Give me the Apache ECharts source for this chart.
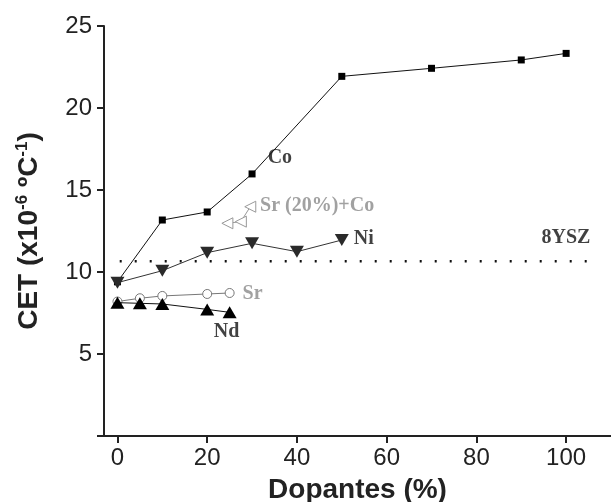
<!DOCTYPE html>
<html>
<head>
<meta charset="utf-8">
<script src="https://cdn.jsdelivr.net/npm/echarts@6/dist/echarts.min.js"></script>
<style>html,body{margin:0;padding:0;background:#fff;}#c{width:611px;height:502px;}</style>
</head>
<body>
<div id="c"></div>
<script>
// Data
const coX = [0, 10, 20, 30, 50, 70, 90, 100];
const coY = [9.4, 13.17, 13.66, 15.98, 21.93, 22.42, 22.93, 23.33];
const niX = [0, 10, 20, 30, 40, 50];
const niY = [9.35, 10.08, 11.18, 11.75, 11.24, 11.95];
const srX = [0, 5, 10, 20, 25];
const srY = [8.2, 8.4, 8.54, 8.66, 8.72];
const ndX = [0, 5, 10, 20, 25];
const ndY = [8.13, 8.09, 8.05, 7.72, 7.54];
const srCoX = [24.5, 27.5, 29.6];
const srCoY = [12.97, 13.07, 13.98];
const ysz = 10.65;
const yszX = [0.5, 106.5];
const xTicks = [0, 20, 40, 60, 80, 100];
const labelText = ['Co', 'Sr (20%)+Co', 'Ni', '8YSZ', 'Sr', 'Nd'];
const labelX = [36.2, 44.5, 54.9, 99.95, 30.1, 24.3];
const labelY = [16.95, 14.02, 12.0, 12.07, 8.66, 6.36];
const labelColor = ['#111', '#8a8a8a', '#111', '#111', '#8a8a8a', '#111'];

const zip = (xs, ys) => xs.map((x, i) => [x, ys[i]]);

const chart = echarts.init(document.getElementById('c'), null, {renderer: 'canvas'});
chart.setOption({
  backgroundColor: '#fff',
  animation: false,
  grid: {left: 104, right: 0, top: 26, bottom: 66, containLabel: false, outerBoundsMode: 'none'},
  xAxis: {
    type: 'value', min: -3, max: 110,
    name: 'Dopantes (%)', nameLocation: 'middle', nameGap: 40,
    nameTextStyle: {fontFamily: 'Liberation Sans', fontWeight: 'bold', fontSize: 28, color: '#222'},
    axisLine: {show: true, onZero: false, lineStyle: {color: '#222', width: 2}},
    axisTick: {show: true, inside: false, length: 7, lineStyle: {color: '#222', width: 2}, customValues: xTicks},
    axisLabel: {customValues: xTicks, fontFamily: 'Liberation Sans', fontSize: 24, color: '#222', margin: 10},
    splitLine: {show: false}
  },
  yAxis: {
    type: 'value', min: 0, max: 25, interval: 5,
    name: '{a|CET (x10}{s|-6}{a| ºC}{s|-1}{a|)}', nameLocation: 'middle', nameGap: 60, nameRotate: 90,
    nameTextStyle: {
      rich: {
        a: {fontFamily: 'Liberation Sans', fontWeight: 'bold', fontSize: 28, color: '#222'},
        s: {fontFamily: 'Liberation Sans', fontWeight: 'bold', fontSize: 17, color: '#222', padding: [0, 0, 13, 0]}
      }
    },
    axisLine: {show: true, onZero: false, lineStyle: {color: '#222', width: 2}},
    axisTick: {show: true, inside: false, length: 7, lineStyle: {color: '#222', width: 2}},
    axisLabel: {fontFamily: 'Liberation Sans', fontSize: 24, color: '#222', margin: 12,
      formatter: v => v === 0 ? '' : String(v)},
    splitLine: {show: false}
  },
  series: [
    {name: '8YSZ', type: 'line', data: zip(yszX, [ysz, ysz]), symbol: 'none',
      lineStyle: {color: '#111', width: 2.5, type: [2, 13]}, z: 1},
    {name: 'Sr(20%)+Co', type: 'line', data: zip(srCoX, srCoY), symbol: 'triangle', symbolSize: 11, symbolRotate: 90,
      lineStyle: {color: '#999', width: 1}, itemStyle: {color: '#fff', borderColor: '#999', borderWidth: 1}, z: 2},
    {name: 'Sr', type: 'line', data: zip(srX, srY), symbol: 'circle', symbolSize: 9,
      lineStyle: {color: '#777', width: 1}, itemStyle: {color: '#fff', borderColor: '#777', borderWidth: 1}, z: 3},
    {name: 'Co', type: 'line', data: zip(coX, coY), symbol: 'rect', symbolSize: 7,
      lineStyle: {color: '#111', width: 1}, itemStyle: {color: '#000'}, z: 4},
    {name: 'Ni', type: 'line', data: zip(niX, niY), symbol: 'triangle', symbolSize: [14, 12], symbolRotate: 180,
      lineStyle: {color: '#333', width: 1}, itemStyle: {color: '#2a2a2a'}, z: 5},
    {name: 'Nd', type: 'line', data: zip(ndX, ndY), symbol: 'triangle', symbolSize: [14, 12],
      lineStyle: {color: '#111', width: 1}, itemStyle: {color: '#000'}, z: 6},
    {name: 'labels', type: 'scatter', symbolSize: 0, silent: true, z: 10,
      data: labelText.map((t, i) => ({value: [labelX[i], labelY[i]], name: t,
        label: {show: true, position: 'inside', formatter: t, color: labelColor[i],
          fontFamily: 'Liberation Serif', fontWeight: 'bold', fontSize: 20}}))}
  ]
});
</script>
</body>
</html>
